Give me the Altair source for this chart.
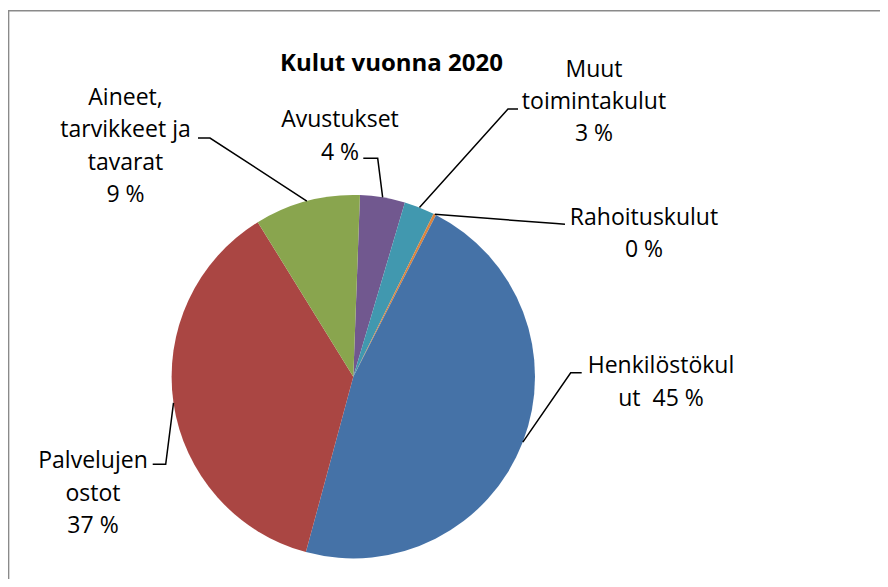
import math
import pandas as pd
import altair as alt

# ---------------- data ----------------
TITLE = "Kulut vuonna 2020"
categories = ["Avustukset", "Muut toimintakulut", "Rahoituskulut",
              "Henkilöstökulut", "Palvelujen ostot", "Aineet, tarvikkeet ja tavarat"]
shares = [4.0, 2.7, 0.24, 46.7, 37.0, 9.4]
pct_labels = ["4 %", "3 %", "0 %", "45 %", "37 %", "9 %"]
wrapped_names = ["Avustukset", "Muut\ntoimintakulut", "Rahoituskulut",
                 "Henkilöstökul\nut", "Palvelujen\nostot", "Aineet,\ntarvikkeet ja\ntavarat"]
name_pct_sep = ["\n", "\n", "\n", "\u00a0 ", "\n", "\n"]
colors = ["#71588F", "#4198AF", "#DB843D", "#4572A7", "#AA4643", "#89A54E"]

# ---------------- layout ----------------
W, H = 872, 571
CX, CY = 345.3, 368.7          # pie centre (px)
R = 181.7                      # pie radius (px)
START = math.radians(2.1)      # first slice angle
FONT = "Open Sans"
FS = 23
LH = 32.3
# leader elbow / end and label anchor, px offsets from pie centre (y down)
elbow = [(24.4, -218.4), (154.7, -267.7), (202.7, -153.1), (217.4, -4.0), (-187.6, 87.6), (-143.3, -238.7)]
stub = [(10.0, -218.4), (164.7, -267.7), (211.7, -152.4), (228.4, -4.0), (-200.6, 87.6), (-155.3, -238.7)]
label_at = [(-13.3, -249.4), (240.7, -300.0), (290.7, -151.7), (307.7, -3.4), (-260.3, 91.6), (-227.8, -271.7)]

# ---------------- tables ----------------
total = sum(shares)
pie_df = pd.DataFrame({"category": categories, "share": shares, "idx": range(len(categories))})

lead_rows, text_rows = [], []
cum = 0.0
for i, (c, s) in enumerate(zip(categories, shares)):
    mid = START + 2 * math.pi * (cum + s / 2) / total
    cum += s
    pts = [(R * math.sin(mid), -R * math.cos(mid)), elbow[i], stub[i]]
    for k, (px, py) in enumerate(pts):
        lead_rows.append({"category": c, "step": k, "x": px, "y": py})
    text_rows.append({"category": c, "x": label_at[i][0], "y": label_at[i][1],
                      "text": wrapped_names[i] + name_pct_sep[i] + pct_labels[i]})
lead_df = pd.DataFrame(lead_rows)
text_df = pd.DataFrame(text_rows)

xs = alt.Scale(domain=[-CX, W - CX], nice=False, zero=False)
ys = alt.Scale(domain=[-CY, H - CY], nice=False, zero=False, reverse=True)

pie = alt.Chart(pie_df).mark_arc(outerRadius=R).encode(
    theta=alt.Theta("share:Q", stack=True, scale=alt.Scale(range=[START, START + 2 * math.pi])),
    color=alt.Color("category:N", scale=alt.Scale(domain=categories, range=colors), legend=None),
    order=alt.Order("idx:Q"),
    x=alt.value(CX),
    y=alt.value(CY),
)

leaders = alt.Chart(lead_df).mark_line(color="#000000", strokeWidth=1.5).encode(
    x=alt.X("x:Q", scale=xs, axis=None),
    y=alt.Y("y:Q", scale=ys, axis=None),
    detail="category:N",
    order="step:Q",
)

labels = alt.Chart(text_df).mark_text(
    font=FONT, fontSize=FS, lineBreak="\n", lineHeight=LH,
    align="center", baseline="alphabetic", color="#000000",
).encode(
    x=alt.X("x:Q", scale=xs, axis=None),
    y=alt.Y("y:Q", scale=ys, axis=None),
    text="text:N",
)

title = alt.Chart(pd.DataFrame({"t": [TITLE]})).mark_text(
    font=FONT, fontSize=24, fontWeight="bold", align="center", baseline="alphabetic", color="#000000",
).encode(x=alt.value(383.5), y=alt.value(62.7), text="t:N")

frame_df = pd.DataFrame({"k": [0]})
frame_left = alt.Chart(frame_df).mark_rule(color="#8a8a8a", strokeWidth=1.5).encode(
    x=alt.value(0.6), y=alt.value(2.0), y2=alt.value(H))
frame_top = alt.Chart(frame_df).mark_rule(color="#8a8a8a", strokeWidth=1.5).encode(
    x=alt.value(0), x2=alt.value(W), y=alt.value(2.7))

chart = alt.layer(frame_left, frame_top, pie, leaders, labels, title).properties(
    width=W, height=H, padding=0, autosize=alt.AutoSizeParams(type="none"),
    background="#ffffff",
).configure_view(stroke=None)

chart.save("out.html", embed_options={"renderer": "svg", "actions": False})
